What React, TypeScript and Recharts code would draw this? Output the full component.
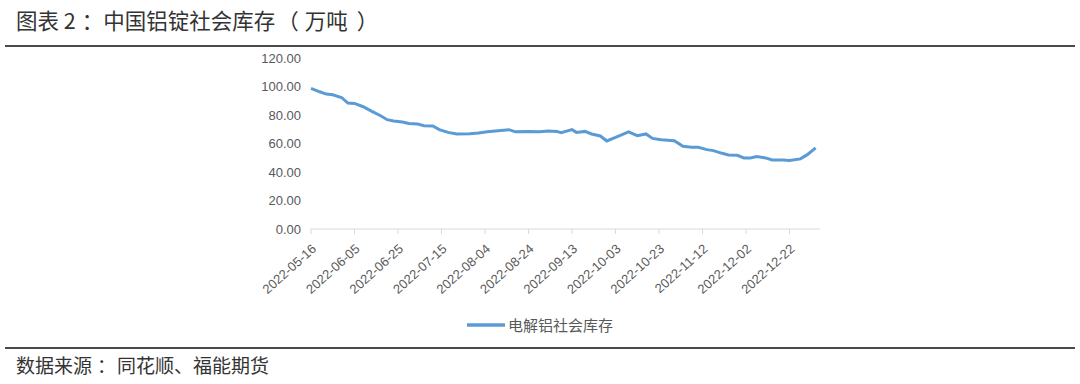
import React from 'react';
import { LineChart, Line, XAxis, YAxis, Legend } from 'recharts';

// 电解铝社会库存（万吨），读图估计
const DATES = [
  '2022-05-16', '2022-05-20', '2022-05-23', '2022-05-26', '2022-05-30',
  '2022-06-02', '2022-06-05', '2022-06-09', '2022-06-13', '2022-06-17',
  '2022-06-20', '2022-06-23', '2022-06-27', '2022-06-30', '2022-07-04',
  '2022-07-07', '2022-07-11', '2022-07-14', '2022-07-18', '2022-07-22',
  '2022-07-28', '2022-08-01', '2022-08-05', '2022-08-10', '2022-08-15',
  '2022-08-18', '2022-08-24', '2022-08-29', '2022-09-02', '2022-09-06',
  '2022-09-08', '2022-09-13', '2022-09-15', '2022-09-19', '2022-09-22',
  '2022-09-26', '2022-09-29', '2022-10-03', '2022-10-06', '2022-10-09',
  '2022-10-13', '2022-10-17', '2022-10-20', '2022-10-24', '2022-10-30',
  '2022-11-03', '2022-11-07', '2022-11-10', '2022-11-14', '2022-11-17',
  '2022-11-21', '2022-11-24', '2022-11-28', '2022-12-01', '2022-12-04',
  '2022-12-07', '2022-12-11', '2022-12-14', '2022-12-19', '2022-12-22',
  '2022-12-27', '2022-12-30', '2023-01-03',
];

const VALUES = [
  98.7, 96.3, 94.7, 94.2, 92.3,
  88.4, 88.1, 85.8, 82.5, 79.5,
  76.7, 75.8, 75.1, 74.1, 73.7,
  72.5, 72.3, 69.7, 67.8, 66.7,
  66.9, 67.4, 68.3, 69.0, 69.7,
  68.2, 68.5, 68.3, 68.8, 68.5,
  67.6, 69.7, 67.8, 68.5, 66.7,
  65.3, 61.8, 64.3, 66.2, 68.1,
  65.5, 66.7, 63.6, 62.7, 62.0,
  58.0, 57.3, 57.3, 55.7, 55.0,
  53.1, 52.0, 51.7, 49.9, 49.9,
  50.8, 49.9, 48.5, 48.5, 48.0,
  49.2, 52.0, 56.9,
];

const TICK_LABELS = [
  '2022-05-16', '2022-06-05', '2022-06-25', '2022-07-15', '2022-08-04', '2022-08-24',
  '2022-09-13', '2022-10-03', '2022-10-23', '2022-11-12', '2022-12-02', '2022-12-22',
];

const Y_TICKS = [0, 20, 40, 60, 80, 100, 120];
const SERIES_NAME = '电解铝社会库存';
const AXIS_END = '2023-01-05';

const START = Date.UTC(2022, 4, 16);
const toDay = (s: string) => {
  const [y, m, d] = s.split('-').map(Number);
  return Math.round((Date.UTC(y, m - 1, d) - START) / 86400000);
};
const fromDay = (n: number) => {
  const dt = new Date(START + n * 86400000);
  const mm = String(dt.getUTCMonth() + 1).padStart(2, '0');
  const dd = String(dt.getUTCDate()).padStart(2, '0');
  return `${dt.getUTCFullYear()}-${mm}-${dd}`;
};

const data = DATES.map((d, i) => ({ day: toDay(d), [SERIES_NAME]: VALUES[i] }));
const xTicks = TICK_LABELS.map(toDay);

const GRAY = '#595959';
const BLUE = '#5b9bd5';
const CHART_FONT = '"Liberation Sans", Arial, sans-serif';

const DateTick = (props: any) => {
  const { x, y, payload } = props;
  const tx = x + 6;
  const ty = y + 14;
  return (
    <text
      x={tx}
      y={ty}
      textAnchor="end"
      fill={GRAY}
      fontSize={13}
      fontFamily={CHART_FONT}
      transform={`rotate(-42, ${tx}, ${ty})`}
    >
      {fromDay(payload.value)}
    </text>
  );
};

const LegendContent = () => (
  <div style={{ display: 'flex', justifyContent: 'center', alignItems: 'center' }}>
    <svg width={38} height={10} style={{ marginRight: 3 }}>
      <line x1={0} y1={5} x2={38} y2={5} stroke={BLUE} strokeWidth={3.5} />
    </svg>
    <span style={{ fontSize: 15, color: GRAY, fontFamily: '"Noto Sans CJK SC", sans-serif' }}>{SERIES_NAME}</span>
  </div>
);

export default function App() {
  return (
    <div
      style={{
        width: 1080,
        height: 384,
        position: 'relative',
        background: '#fff',
        fontFamily: '"Noto Sans CJK SC", sans-serif',
        overflow: 'hidden',
      }}
    >
      <style>{'body{margin:0}'}</style>
      <div style={{ position: 'absolute', left: 16, top: 5, fontSize: 21.5, color: '#333', lineHeight: '30px', whiteSpace: 'nowrap' }}>
        <span>图表 2</span>
        <span style={{ marginLeft: 6 }}>：</span>
        <span>中国铝锭社会库存</span>
        <span style={{ marginLeft: 2, marginRight: 6 }}>（</span>
        <span>万吨</span>
        <span style={{ marginLeft: 9 }}>）</span>
      </div>
      <div style={{ position: 'absolute', left: 5, top: 45, width: 1070, height: 2, background: '#4a4a4a' }} />

      <div style={{ position: 'absolute', left: 0, top: 50 }}>
        <LineChart width={1080} height={295} data={data} margin={{ top: 8, right: 260, left: 0, bottom: 56 }}>
          <XAxis
            type="number"
            dataKey="day"
            domain={[0, toDay(AXIS_END)]}
            ticks={xTicks}
            interval={0}
            tick={<DateTick />}
            tickSize={5}
            height={60}
            axisLine={{ stroke: '#d9d9d9' }}
            tickLine={{ stroke: '#d9d9d9' }}
          />
          <YAxis
            domain={[0, 120]}
            ticks={Y_TICKS}
            width={311}
            axisLine={false}
            tickLine={false}
            tickSize={0}
            tickMargin={10}
            tick={{ fill: GRAY, fontSize: 13, fontFamily: CHART_FONT }}
            tickFormatter={(v: number) => v.toFixed(2)}
          />
          <Legend
            verticalAlign="middle"
            content={<LegendContent />}
            wrapperStyle={{ top: 264, left: 0, width: 1080 }}
          />
          <Line
            type="linear"
            dataKey={SERIES_NAME}
            stroke={BLUE}
            strokeWidth={3}
            dot={false}
            isAnimationActive={false}
          />
        </LineChart>
      </div>

      <div style={{ position: 'absolute', left: 5, top: 347, width: 1070, height: 2, background: '#4a4a4a' }} />
      <div style={{ position: 'absolute', left: 16, top: 351, fontSize: 19, color: '#333', lineHeight: '28px', whiteSpace: 'nowrap' }}>
        <span>数据来源</span>
        <span style={{ marginLeft: 5, marginRight: 1 }}>：</span>
        <span>同花顺、福能期货</span>
      </div>
    </div>
  );
}
